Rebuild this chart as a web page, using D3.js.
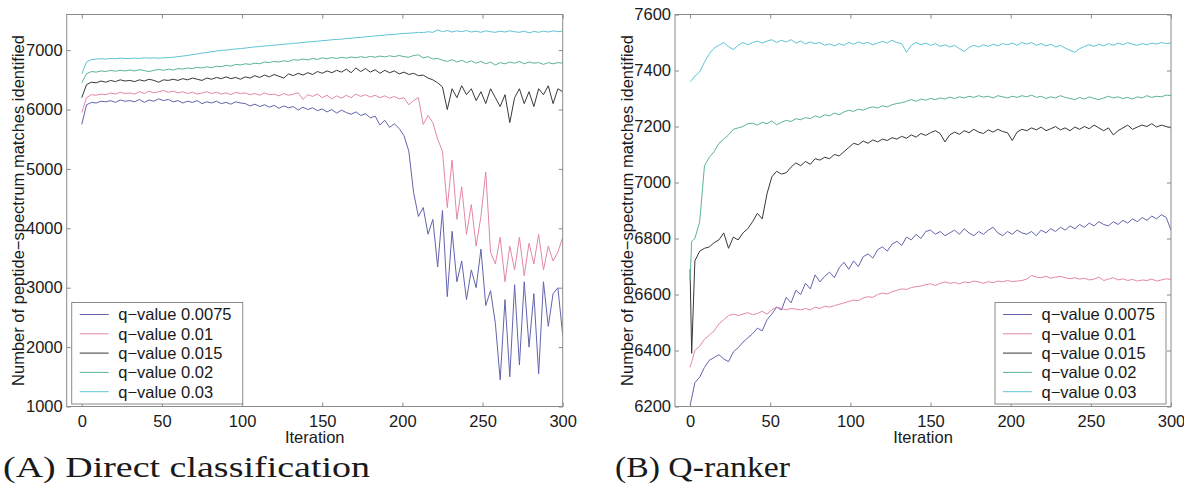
<!DOCTYPE html>
<html>
<head>
<meta charset="utf-8">
<script src="https://cdn.jsdelivr.net/npm/d3@7"></script>
<style>
  body { margin: 0; background: #fff; }
  svg text { font-family: "Liberation Sans", Arial, sans-serif; fill: #1a1a1a; }
  .caption { font-family: "Liberation Serif", "Times New Roman", serif !important; }
</style>
</head>
<body>
<div id="chart"></div>
<script>
// legend labels and line colours
var seriesNames = ["q\u2212value 0.0075", "q\u2212value 0.01", "q\u2212value 0.015", "q\u2212value 0.02", "q\u2212value 0.03"];
var seriesColors = ["#6264ad", "#e387aa", "#383838", "#5cb392", "#5fc3d3"];

// (A) Direct classification, sampled every 3 iterations
var iterA = d3.range(0, 301, 3);
var directQ0075 = [5750,6080,6120,6110,6140,6130,6150,6120,6160,6140,
  6150,6130,6170,6120,6160,6140,6180,6150,6170,6130,
  6150,6110,6140,6120,6150,6100,6130,6110,6140,6100,
  6120,6090,6130,6110,6100,6060,6090,6050,6080,6040,
  6070,6020,6060,6030,6050,5990,6040,6000,6030,5980,
  6010,5960,6000,5940,5990,5950,5920,5960,5900,5930,
  5860,5890,5740,5820,5700,5760,5680,5560,5300,4600,
  4200,4350,3900,4150,3350,4300,2850,3950,3100,3450,
  2800,3300,3000,3650,2700,2950,2400,1450,2800,1500,
  3050,1700,3100,2000,2900,1550,3100,2350,2900,3000,
  2200];
var directQ01 = [5950,6200,6250,6240,6260,6250,6280,6260,6290,6270,
  6280,6260,6300,6270,6310,6280,6300,6320,6290,6310,
  6280,6300,6270,6290,6260,6280,6300,6270,6290,6260,
  6280,6250,6290,6270,6280,6250,6270,6240,6280,6250,
  6260,6230,6270,6240,6260,6280,6170,6250,6220,6260,
  6200,6240,6180,6230,6190,6240,6200,6260,6220,6250,
  6210,6240,6200,6230,6190,6220,6180,6200,6080,6150,
  6200,5750,5900,5780,5500,5300,4350,5150,4150,4700,
  3900,4400,3700,4200,4950,3600,3400,3850,3100,3700,
  3300,3850,3200,3750,3400,3900,3300,3700,3450,3600,
  3850];
var directQ015 = [6200,6420,6460,6450,6480,6460,6490,6470,6500,6480,
  6490,6470,6500,6480,6510,6490,6460,6500,6490,6510,
  6490,6520,6500,6530,6510,6490,6530,6510,6540,6520,
  6550,6520,6540,6510,6550,6530,6570,6540,6580,6550,
  6590,6560,6530,6600,6570,6610,6580,6620,6590,6640,
  6610,6650,6620,6660,6630,6680,6620,6700,6640,6690,
  6630,6670,6610,6660,6620,6650,6600,6630,6590,6610,
  6570,6580,6530,6500,6450,6380,6000,6350,6200,6400,
  6250,6350,6150,6300,6100,6350,6200,6050,6250,5780,
  6200,6350,6100,6300,6050,6350,6250,6400,6100,6350,
  6300];
var directQ02 = [6450,6600,6640,6630,6650,6640,6660,6645,6660,6650,
  6665,6650,6670,6655,6640,6660,6675,6660,6680,6665,
  6690,6680,6700,6690,6710,6700,6720,6705,6730,6720,
  6745,6730,6760,6750,6770,6760,6780,6770,6800,6790,
  6810,6800,6820,6810,6840,6830,6850,6835,6860,6845,
  6870,6855,6875,6860,6880,6865,6885,6870,6890,6875,
  6895,6880,6900,6885,6905,6890,6910,6890,6880,6910,
  6920,6870,6890,6850,6860,6830,6810,6840,6800,6830,
  6790,6820,6780,6810,6770,6800,6750,6790,6770,6800,
  6780,6810,6770,6800,6780,6790,6760,6790,6770,6790,
  6780];
var directQ03 = [6600,6800,6840,6850,6855,6850,6860,6855,6865,6860,
  6860,6865,6860,6870,6865,6870,6865,6870,6875,6880,
  6890,6900,6910,6925,6935,6950,6960,6975,6985,6995,
  7000,7010,7020,7025,7035,7045,7055,7060,7070,7075,
  7085,7090,7100,7105,7115,7120,7130,7135,7145,7150,
  7160,7165,7175,7180,7185,7195,7200,7210,7215,7225,
  7230,7240,7245,7255,7260,7265,7275,7280,7285,7290,
  7300,7295,7310,7300,7340,7310,7330,7305,7325,7310,
  7330,7305,7320,7300,7325,7310,7300,7320,7305,7325,
  7310,7300,7320,7290,7315,7300,7320,7305,7325,7310,
  7320];

// (B) Q-ranker, iterations 0, 1, then every 3
var iterB = [0, 1].concat(d3.range(3, 301, 3));
var rankerQ0075 = [6205,6230,6285,6305,6340,6365,6375,6385,6370,6360,6395,
  6410,6430,6445,6460,6480,6470,6510,6530,6555,6545,
  6590,6570,6615,6600,6640,6620,6670,6645,6665,6680,
  6660,6695,6715,6690,6720,6700,6735,6745,6730,6760,
  6770,6755,6780,6790,6775,6805,6795,6815,6800,6825,
  6830,6815,6825,6810,6820,6830,6815,6835,6820,6810,
  6825,6815,6830,6840,6820,6810,6825,6815,6830,6820,
  6815,6825,6810,6830,6820,6835,6825,6840,6830,6845,
  6835,6850,6840,6855,6845,6860,6850,6845,6860,6850,
  6865,6855,6870,6860,6875,6865,6880,6870,6885,6875,
  6830];
var rankerQ01 = [6340,6360,6400,6415,6440,6455,6470,6495,6510,6525,6530,
  6525,6530,6535,6528,6532,6540,6530,6545,6555,6550,
  6545,6550,6548,6545,6550,6545,6555,6550,6558,6555,
  6560,6565,6570,6575,6580,6578,6588,6592,6590,6600,
  6605,6602,6610,6615,6620,6618,6625,6628,6630,6635,
  6638,6632,6640,6645,6640,6643,6638,6645,6642,6648,
  6645,6640,6646,6642,6648,6645,6650,6646,6648,6650,
  6655,6668,6662,6660,6665,6658,6662,6665,6660,6656,
  6660,6655,6658,6652,6655,6662,6650,6655,6660,6652,
  6656,6650,6654,6648,6652,6650,6655,6648,6652,6656,
  6654];
var rankerQ015 = [6690,6390,6720,6755,6765,6770,6785,6795,6820,6765,6805,
  6795,6820,6835,6860,6890,6870,6960,7020,7040,7030,
  7035,7055,7070,7060,7075,7065,7085,7080,7090,7085,
  7100,7095,7110,7125,7140,7135,7148,7140,7152,7145,
  7155,7150,7160,7155,7165,7158,7170,7162,7175,7168,
  7178,7185,7175,7145,7170,7180,7172,7185,7178,7190,
  7180,7175,7188,7180,7190,7182,7178,7150,7180,7190,
  7185,7195,7188,7198,7185,7192,7200,7188,7195,7185,
  7198,7190,7200,7192,7205,7195,7185,7195,7170,7185,
  7195,7205,7190,7198,7205,7200,7210,7198,7205,7200,
  7195];
var rankerQ02 = [6650,6790,6800,6860,7060,7090,7110,7140,7155,7170,7190,
  7195,7200,7210,7212,7205,7215,7210,7220,7206,7215,
  7222,7218,7228,7224,7232,7228,7238,7232,7242,7238,
  7248,7242,7252,7258,7254,7262,7258,7266,7270,7266,
  7274,7270,7278,7282,7285,7290,7296,7290,7298,7294,
  7300,7296,7302,7298,7305,7300,7306,7302,7308,7304,
  7310,7305,7308,7302,7310,7306,7302,7308,7304,7310,
  7306,7312,7304,7308,7300,7306,7302,7310,7304,7300,
  7296,7304,7298,7306,7300,7296,7302,7308,7302,7306,
  7300,7304,7298,7306,7302,7310,7304,7308,7306,7312,
  7310];
var rankerQ03 = [7360,7365,7380,7395,7430,7460,7480,7490,7500,7485,7475,
  7490,7500,7492,7500,7505,7498,7505,7510,7500,7508,
  7502,7510,7498,7505,7495,7502,7496,7500,7490,7495,
  7488,7496,7490,7500,7494,7502,7496,7500,7492,7498,
  7504,7498,7508,7500,7496,7465,7490,7500,7492,7498,
  7490,7496,7486,7492,7484,7490,7478,7468,7482,7490,
  7484,7492,7486,7494,7488,7496,7492,7498,7490,7500,
  7494,7500,7490,7496,7488,7494,7484,7490,7480,7472,
  7465,7478,7486,7492,7486,7494,7488,7496,7490,7498,
  7492,7500,7494,7490,7496,7492,7498,7494,7500,7496,
  7498];

var xTicks = [0, 50, 100, 150, 200, 250, 300];
var yTicksA = [1000, 2000, 3000, 4000, 5000, 6000, 7000];
var yTicksB = [6200, 6400, 6600, 6800, 7000, 7200, 7400, 7600];

var svg = d3.select("#chart").append("svg")
    .attr("width", 1184)
    .attr("height", 492);

function drawPanel(id, left, right, iters, series, yDomain, yTicks, legendX, caption, capX, capLen) {
    var top = 14.5, bottom = 406.5;
    var x = d3.scaleLinear().domain([-9.4, 300]).range([left, right]);
    var y = d3.scaleLinear().domain(yDomain).range([bottom, top]);
    var g = svg.append("g");

    g.append("clipPath").attr("id", "clip" + id)
        .append("rect")
        .attr("x", left).attr("y", top)
        .attr("width", right - left).attr("height", bottom - top);

    var line = d3.line()
        .x(function(d) { return x(d[0]); })
        .y(function(d) { return y(d[1]); });

    var lines = g.append("g").attr("clip-path", "url(#clip" + id + ")");
    // draw bottom series last-to-first so the dark line sits on top like the original
    series.forEach(function(vals, k) {
        lines.append("path")
            .datum(iters.map(function(it, j) { return [it, vals[j]]; }))
            .attr("fill", "none")
            .attr("stroke", seriesColors[k])
            .attr("stroke-width", 1)
            .attr("stroke-linejoin", "round")
            .attr("d", line);
    });

    // axes, ticks inside like matlab
    var axB = g.append("g").attr("transform", "translate(0," + bottom + ")")
        .call(d3.axisBottom(x).tickValues(xTicks).tickSize(-4).tickPadding(9));
    var axT = g.append("g").attr("transform", "translate(0," + top + ")")
        .call(d3.axisTop(x).tickValues(xTicks).tickSize(-4).tickFormat(""));
    var axL = g.append("g").attr("transform", "translate(" + left + ",0)")
        .call(d3.axisLeft(y).tickValues(yTicks).tickSize(-4).tickPadding(4).tickFormat(d3.format("d")));
    var axR = g.append("g").attr("transform", "translate(" + right + ",0)")
        .call(d3.axisRight(y).tickValues(yTicks).tickSize(-4).tickFormat(""));
    [axB, axT, axL, axR].forEach(function(a) {
        a.select(".domain").remove();
        a.selectAll("line").attr("stroke", "#8a8a8a");
        a.selectAll("text").style("font-size", "16.5px").attr("fill", "#1a1a1a");
    });

    g.append("rect")
        .attr("x", left).attr("y", top)
        .attr("width", right - left).attr("height", bottom - top)
        .attr("fill", "none")
        .attr("stroke", "#8a8a8a");

    g.append("text")
        .attr("x", (left + right) / 2)
        .attr("y", 443)
        .attr("text-anchor", "middle")
        .style("font-size", "16.5px")
        .text("Iteration");

    g.append("text")
        .attr("transform", "translate(" + (left - 48) + "," + ((top + bottom) / 2) + ") rotate(-90)")
        .attr("text-anchor", "middle")
        .attr("dy", "0.35em")
        .style("font-size", "16.5px")
        .text("Number of peptide\u2212spectrum matches identified");

    // legend
    var lg = g.append("g").attr("transform", "translate(" + legendX + ",302.5)");
    lg.append("rect")
        .attr("width", 171).attr("height", 101.5)
        .attr("fill", "#fff").attr("stroke", "#8a8a8a");
    seriesNames.forEach(function(name, k) {
        var ry = 12 + k * 19.3;
        lg.append("line")
            .attr("x1", 8).attr("x2", 37)
            .attr("y1", ry).attr("y2", ry)
            .attr("stroke", seriesColors[k]);
        lg.append("text")
            .attr("x", 46.5).attr("y", ry)
            .attr("dy", "0.36em")
            .style("font-size", "16.5px")
            .text(name);
    });

    svg.append("text")
        .attr("class", "caption")
        .attr("x", capX).attr("y", 477)
        .attr("textLength", capLen)
        .attr("lengthAdjust", "spacingAndGlyphs")
        .style("font-size", "30px")
        .text(caption);
}

drawPanel("A", 66.7, 562.7, iterA,
    [directQ0075, directQ01, directQ015, directQ02, directQ03],
    [1000, 7600], yTicksA, 71.7, "(A) Direct classification", 3, 367);
drawPanel("B", 675, 1171, iterB,
    [rankerQ0075, rankerQ01, rankerQ015, rankerQ02, rankerQ03],
    [6200, 7600], yTicksB, 995, "(B) Q-ranker", 615, 175);
</script>
</body>
</html>
